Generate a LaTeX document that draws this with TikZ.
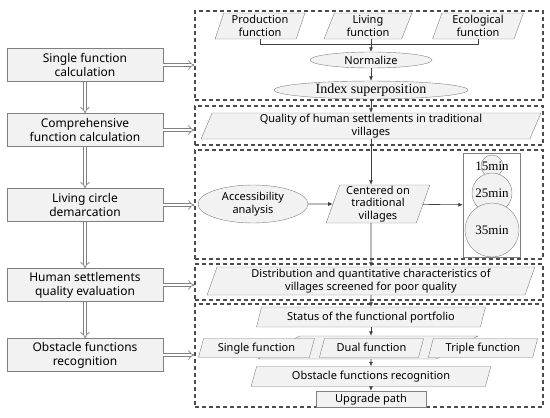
\documentclass[tikz,border=0pt]{standalone}
\usepackage{fontspec}
\setmainfont{Noto Sans}
\newfontfamily\tmsfont{Liberation Serif}
\usetikzlibrary{arrows.meta,shapes.geometric}

\begin{document}
\begin{tikzpicture}[x=1pt, y=-1pt,
    lbox/.style = {draw=gray, fill=gray!10, minimum width=156pt, minimum height=33pt, inner sep=1pt, align=center, font=\fontsize{12}{14}\selectfont},
    dbox/.style = {draw=black!70, line width=1.1pt, dash pattern=on 4pt off 3pt, minimum width=348pt, inner sep=0pt},
    para/.style = {trapezium, trapezium left angle=73, trapezium right angle=107, trapezium stretches=true, draw=gray, fill=gray!10, inner sep=1pt, align=center, font=\fontsize{11}{12.5}\selectfont},
    oneline/.style = {text height=1.6ex, text depth=0.4ex},
    oval/.style = {ellipse, draw=gray, fill=gray!10, inner sep=0pt, align=center},
    circ/.style = {circle, draw=gray, fill=gray!10, inner sep=0pt},
    tm/.style = {font=\tmsfont\fontsize{13}{15}\selectfont},
    dbl/.style = {draw=gray, double=white, double distance=2.6pt, line width=0.7pt, -{Implies}},
    arr/.style = {draw=black!75, line width=0.6pt, -{Latex[length=4.5pt,width=4pt]}}]
    \useasboundingbox (0,0) rectangle (550,418);

    \node[dbox, minimum height=89pt] (frameA) at (369,55.5) {};
    \node[dbox, minimum height=39pt] (frameB) at (369,125.5) {};
    \node[dbox, minimum height=109pt] (frameC) at (369,204.5) {};
    \node[dbox, minimum height=36pt] (frameD) at (369,282) {};
    \node[dbox, minimum height=103pt] (frameE) at (369,355.5) {};

    \node[lbox] (single) at (85,65) {Single function\\calculation};
    \node[lbox] (compre) at (85,130) {Comprehensive\\function calculation};
    \node[lbox] (demarc) at (85,205) {Living circle\\demarcation};
    \node[lbox] (evalu) at (85,285) {Human settlements\\quality evaluation};
    \node[lbox] (obsrec) at (85,355) {Obstacle functions\\recognition};

    \draw[dbl] (single) -- (compre);
    \draw[dbl] (compre) -- (demarc);
    \draw[dbl] (demarc) -- (evalu);
    \draw[dbl] (evalu) -- (obsrec);
    \draw[dbl] (single.east) -- (single.east -| frameA.west);
    \draw[dbl] (compre.east) -- (compre.east -| frameB.west);
    \draw[dbl] (demarc.east) -- (demarc.east -| frameC.west);
    \draw[dbl] (evalu.east) -- (evalu.east -| frameD.west);
    \draw[dbl] (obsrec.east) -- (obsrec.east -| frameE.west);

    \node[para, minimum width=90pt, minimum height=26pt] (prod) at (260,26) {Production\\function};
    \node[para, minimum width=88pt, minimum height=26pt] (livfun) at (368,26) {Living\\function};
    \node[para, minimum width=91pt, minimum height=26pt] (eco) at (478,26) {Ecological\\function};
    \node[oval, minimum width=122pt, minimum height=16pt, font=\fontsize{11}{12.5}\selectfont] (norm) at (371,60) {Normalize};
    \node[oval, minimum width=194pt, minimum height=15pt, font=\tmsfont\fontsize{14}{15}\selectfont] (index) at (371,90) {Index superposition};
    \draw[draw=black!75, line width=0.6pt] (prod.south) -- ++(0,5) -| (eco.south);
    \draw[arr] (norm.north |- livfun.south) -- (norm);
    \draw[arr] (norm) -- (index);

    \node[para, minimum width=340pt, minimum height=26pt] (qual) at (371,126) {Quality of human settlements in traditional\\villages};
    \draw[arr] (index) -- (qual);

    \node[para, minimum width=104pt, minimum height=38pt] (center) at (378,204) {Centered on\\traditional\\villages};
    \node[oval, minimum width=110pt, minimum height=38pt, font=\fontsize{11}{12.5}\selectfont] (access) at (253,204) {Accessibility\\analysis};
    \node[draw=gray, minimum width=57pt, minimum height=104pt, inner sep=0pt] (circbox) at (491.5,205) {};
    \node[circ, minimum size=22pt, label={[tm]center:15min}] (c15) at (492,166) {};
    \node[circ, minimum size=40pt, label={[tm]center:25min}] (c25) at (492,193) {};
    \node[circ, minimum size=54pt, label={[tm]center:35min}] (c35) at (492,230) {};
    \draw[arr] (qual.south) -- (qual.south |- center.north);
    \draw[arr] (access) -- (center);
    \draw[arr] (center) -- (circbox);

    \node[para, minimum width=328pt, minimum height=28pt] (distrib) at (371,281) {Distribution and quantitative characteristics of\\villages screened for poor quality};
    \draw[arr] (qual.south |- center.south) -- (distrib);

    \node[para, oneline, minimum width=229pt, minimum height=20pt] (status) at (371,317) {Status of the functional portfolio};
    \node[para, minimum width=220pt, minimum height=23pt] (rowbg) at (368,347.5) {};
    \node[para, oneline, minimum width=117pt, minimum height=19pt] (sfun) at (256.5,348) {Single function};
    \node[para, oneline, minimum width=105pt, minimum height=19pt] (dfun) at (371.5,348) {Dual function};
    \node[para, oneline, minimum width=110pt, minimum height=19pt] (tfun) at (483,348) {Triple function};
    \node[para, oneline, minimum width=240pt, minimum height=20pt] (obst) at (371,376.5) {Obstacle functions recognition};
    \node[draw=gray, fill=gray!10, oneline, minimum width=110pt, minimum height=16pt, inner sep=0pt, font=\fontsize{11}{12.5}\selectfont] (upgrade) at (371,399) {Upgrade path};

    \draw[arr] (distrib) -- (status);
    \draw[arr] (status.south) -- (status.south |- rowbg.north);
    \draw[arr] (status.south |- rowbg.south) -- (obst);
    \draw[arr] (obst) -- (upgrade);
\end{tikzpicture}
\end{document}
